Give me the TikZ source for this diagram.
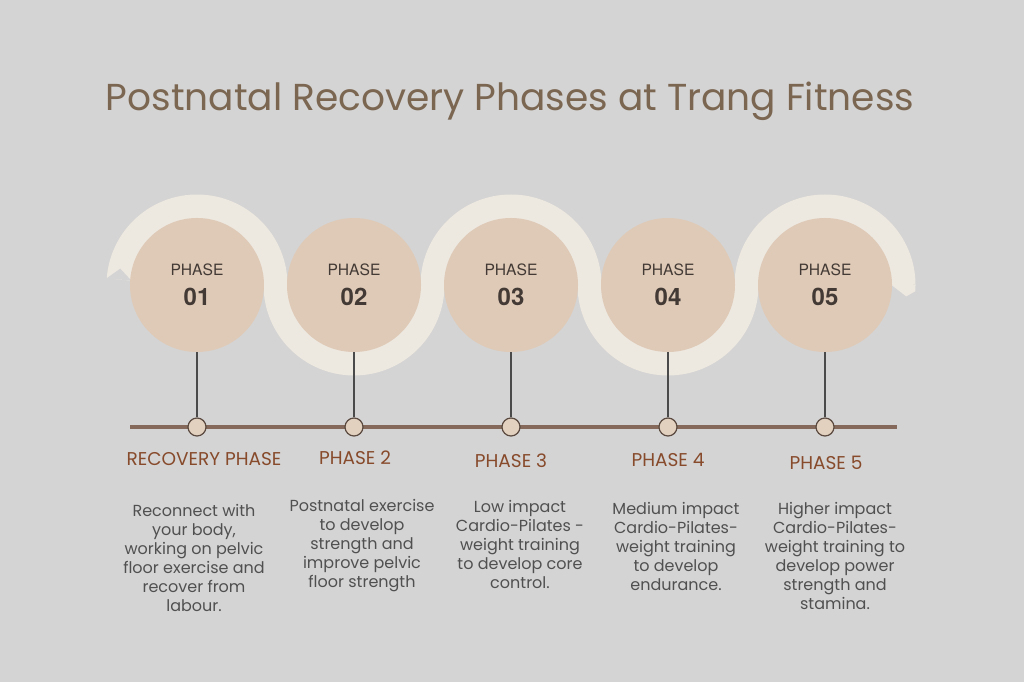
\documentclass[tikz,border=0pt]{standalone}
\usepackage{fontspec}
\usetikzlibrary{calc}
\setmainfont{Poppins}
\newfontfamily\herosfont{TeX Gyre Heros}
\definecolor{bgcol}{HTML}{D4D4D4}
\definecolor{bandcol}{HTML}{EDE8E0}
\definecolor{ringfill}{HTML}{DFCAB7}
\definecolor{numtext}{HTML}{433A35}
\definecolor{titlecol}{HTML}{7B6651}
\definecolor{linecol}{HTML}{85695A}
\definecolor{dotfill}{HTML}{E3D1C0}
\definecolor{dotline}{HTML}{5A4A40}
\definecolor{stemcol}{HTML}{4A4A4A}
\definecolor{labelcol}{HTML}{874A2B}
\definecolor{desccol}{HTML}{505050}
\newcommand{\phasenum}[1]{PHASE\\{\fontsize{24}{29.5}\selectfont\bfseries #1}}
\begin{document}
\begin{tikzpicture}[x=1pt, y=1pt,
    phasecircle/.style={circle, fill=ringfill, minimum size=134pt, inner sep=0pt, align=center,
      text=numtext, font=\herosfont\fontsize{15.6}{29.5}\selectfont},
    bandline/.style={draw=bandcol, line width=24pt},
    tldot/.style={circle, draw=dotline, fill=dotfill, line width=1.2pt, minimum size=18pt, inner sep=0pt},
    stemline/.style={draw=stemcol, line width=1.1pt},
    timeline/.style={draw=linecol, line width=4.5pt},
    phaselabel/.style={font=\fontsize{18.5}{20}\selectfont, text=labelcol},
    desc/.style={font=\fontsize{16}{19}\selectfont, text=desccol, align=center},
  ]
    \fill[bgcol] (0,0) rectangle (1024,682);
    \useasboundingbox (0,0) rectangle (1024,682);

    % Wave band
    \coordinate (bandstart) at ($(197,397)+(176:78.5)$);
    \draw[bandline] (bandstart) arc[start angle=176, end angle=0, radius=78.5]
      arc[start angle=180, end angle=360, radius=78.5]
      arc[start angle=180, end angle=0, radius=78.5]
      arc[start angle=180, end angle=360, radius=78.5]
      arc[start angle=180, end angle=0, radius=78.5];
    \fill[bgcol] ($(197,397)+(176:91)$) -- ($(197,397)+(168:78.5)$) -- ($(197,397)+(176:66)$) -- cycle;
    \fill[bandcol] ($(825,397)+(0:66.5)$) -- ($(825,397)+(0:90.5)$)
      arc[start angle=0, end angle=-4, radius=90.5] -- ($(825,397)+(-8:82)$) -- cycle;

    % Phase circles
    \node[phasecircle] (c1) at (197,397) {\phasenum{01}};
    \node[phasecircle] (c2) at (354,397) {\phasenum{02}};
    \node[phasecircle] (c3) at (511,397) {\phasenum{03}};
    \node[phasecircle] (c4) at (668,397) {\phasenum{04}};
    \node[phasecircle] (c5) at (825,397) {\phasenum{05}};

    % Timeline
    \coordinate (tl) at (130,255);
    \coordinate (tr) at (897,255);
    \draw[timeline] (tl) -- (tr);
    \node[tldot] (d1) at (197,255) {};
    \node[tldot] (d2) at (354,255) {};
    \node[tldot] (d3) at (511,255) {};
    \node[tldot] (d4) at (668,255) {};
    \node[tldot] (d5) at (825,255) {};
    \draw[stemline] (c1) -- (d1);
    \draw[stemline] (c2) -- (d2);
    \draw[stemline] (c3) -- (d3);
    \draw[stemline] (c4) -- (d4);
    \draw[stemline] (c5) -- (d5);

    % Labels
    \node[phaselabel] (l1) at (204,223) {RECOVERY PHASE};
    \node[phaselabel] (l2) at (355,224) {PHASE 2};
    \node[phaselabel] (l3) at (511,221) {PHASE 3};
    \node[phaselabel] (l4) at (668,222) {PHASE 4};
    \node[phaselabel] (l5) at (826,219) {PHASE 5};

    \node[desc] (t1) at (194,124) {Reconnect with\\your body,\\working on pelvic\\floor exercise and\\recover from\\labour.};
    \node[desc] (t2) at (362,136) {Postnatal exercise\\to develop\\strength and\\improve pelvic\\floor strength};
    \node[desc] (t3) at (520,138) {Low impact\\Cardio-Pilates -\\weight training\\to develop core\\control.};
    \node[desc] (t4) at (676,136) {Medium impact\\Cardio-Pilates-\\weight training\\to develop\\endurance.};
    \node[desc] (t5) at (835,126) {Higher impact\\Cardio-Pilates-\\weight training to\\develop power\\strength and\\stamina.};

    % Title
    \node[font=\fontsize{37.5}{44}\selectfont, text=titlecol] (title) at (510,581)
      {Postnatal Recovery Phases at Trang Fitness};
\end{tikzpicture}
\end{document}
